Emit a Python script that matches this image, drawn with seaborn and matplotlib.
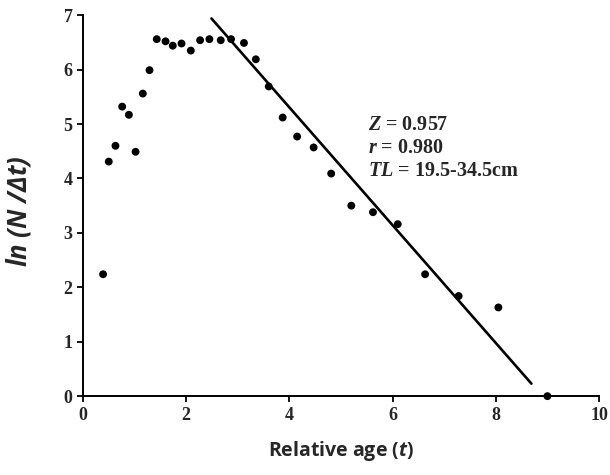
"""Catch curve: ln(N/dt) against relative age with the fitted descending limb"""
import matplotlib

matplotlib.use("Agg")
from matplotlib import pyplot as plt
from pandas import DataFrame
import seaborn as sns

# data
age = [0.39, 0.50, 0.63, 0.76, 0.89, 1.02, 1.16, 1.29, 1.43, 1.60, 1.74, 1.91,
       2.09, 2.27, 2.45, 2.67, 2.87, 3.12, 3.35, 3.60, 3.87, 4.15, 4.47, 4.81,
       5.20, 5.62, 6.10, 6.63, 7.28, 8.05, 9.00]
ln_n = [2.24, 4.31, 4.60, 5.32, 5.17, 4.49, 5.56, 5.99, 6.56, 6.52, 6.44, 6.48,
        6.35, 6.54, 6.56, 6.54, 6.56, 6.49, 6.19, 5.69, 5.12, 4.77, 4.57, 4.09,
        3.50, 3.38, 3.16, 2.24, 1.84, 1.63, 0.00]
fit_age = [2.49, 8.69]
fit_ln_n = [6.94, 0.23]
stats_lines = [r"$Z$ = 0.957", r"$r$ = 0.980", r"$TL$ = 19.5-34.5cm"]

sns.set_style("ticks")
plt.rcParams["font.family"] = ["Liberation Serif", "DejaVu Sans"]
plt.rcParams["mathtext.fontset"] = "custom"
plt.rcParams["mathtext.it"] = "Liberation Serif:italic:bold"
plt.rcParams["mathtext.rm"] = "Liberation Serif:bold"
plt.rcParams["mathtext.sf"] = "Open Sans:italic:bold"

df = DataFrame({"age": age, "ln_n": ln_n})
fit = DataFrame({"age": fit_age, "ln_n": fit_ln_n})

fig = plt.figure(figsize=(6.1, 4.75), dpi=100)
ax = fig.add_axes([0.136, 0.166, 0.846, 0.802])
sns.scatterplot(data=df, x="age", y="ln_n", color="black", s=32,
                edgecolor="none", ax=ax, zorder=3, clip_on=False)
sns.lineplot(data=fit, x="age", y="ln_n", color="black", linewidth=1.9, ax=ax)

ax.set_xlim(0, 10)
ax.set_ylim(0, 7)
ax.set_xticks(range(0, 11, 2))
ax.set_yticks(range(0, 8))
for lab in ax.get_xticklabels() + ax.get_yticklabels():
    lab.set_fontweight("bold")
    lab.set_fontsize(13)
ax.tick_params(direction="out", length=4, width=1.3, color="black")
for side in ["left", "bottom"]:
    ax.spines[side].set_linewidth(1.4)
    ax.spines[side].set_color("black")
sns.despine(ax=ax)

ax.set_xlabel(r"Relative age ($\mathsf{t}$)", family="Open Sans",
              fontweight="bold", fontsize=14, labelpad=11)
ax.set_ylabel(r"$\mathsf{ln\ (N\ /\Delta t)}$", fontsize=18.5)
ax.yaxis.set_label_coords(-0.097, 0.486)

ax.text(5.52, 4.56, "\n".join(stats_lines), fontsize=14.5, fontweight="bold",
        va="center", ha="left", linespacing=1.2)

plt.savefig("out.png", dpi=100)
